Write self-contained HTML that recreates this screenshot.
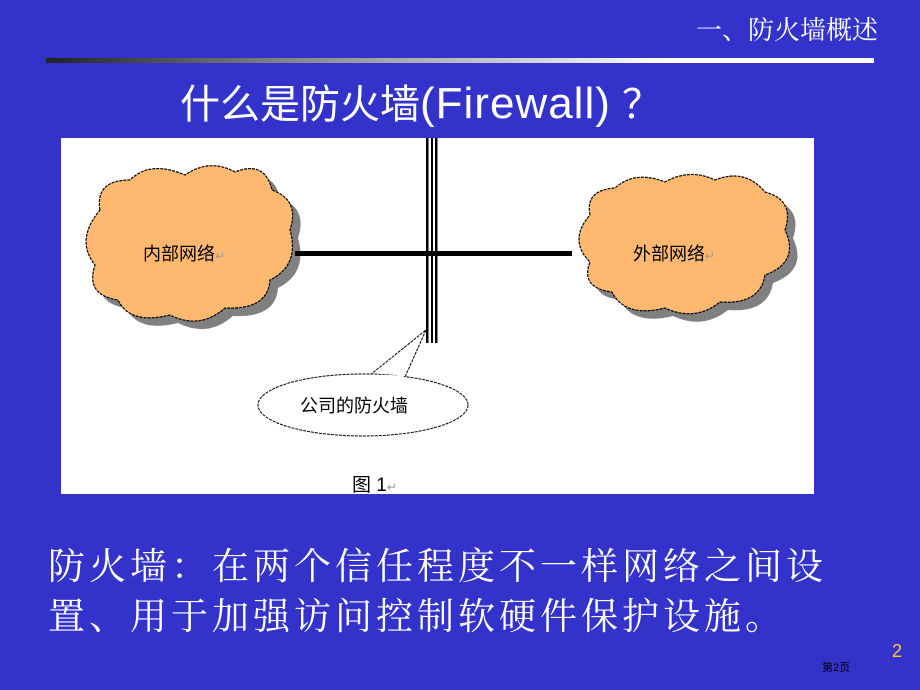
<!DOCTYPE html>
<html><head><meta charset="utf-8"><style>
body{margin:0;width:920px;height:690px;background:#3333CC;position:relative;overflow:hidden;font-family:"Liberation Sans","Noto Sans CJK SC",sans-serif;}
.a{position:absolute;white-space:nowrap;}
</style></head><body>
<div class="a" style="left:696px;top:10px;font-size:26px;color:#fff;font-family:'Noto Serif CJK SC',serif;">一、防火墙概述</div>
<div class="a" style="left:46px;top:58px;width:828px;height:5px;background:linear-gradient(90deg,#222 0%,#888 30%,#fff 75%,#fff 100%);"></div>
<div class="a" style="left:180px;top:72px;font-size:40px;color:#fff;">什么是防火墙<span style="font-size:44px;letter-spacing:1px">(Firewall)</span> ？</div>
<div class="a" style="left:61px;top:138px;width:753px;height:356px;background:#fff;"></div>
<svg class="a" style="left:0;top:0" width="920" height="690">
<g transform="translate(8,8)" fill="#808080">
<path d="M100 210 Q95 180 130 180 Q150 160 185 175 Q210 158 235 172 Q265 160 272 190 Q300 200 290 230 Q300 265 270 280 Q268 310 225 308 Q200 330 170 315 Q130 325 118 300 Q85 295 95 265 Q75 240 100 210Z"/>
<path d="M590 215 Q585 190 615 188 Q635 170 665 182 Q690 168 715 180 Q745 168 765 192 Q795 200 785 230 Q800 262 765 275 Q760 305 720 302 Q695 322 665 308 Q625 318 612 292 Q580 288 590 262 Q568 240 590 215Z"/>
</g>
<g fill="#FFB870" stroke="#000" stroke-width="1.2" stroke-dasharray="3 1">
<path d="M100 210 Q95 180 130 180 Q150 160 185 175 Q210 158 235 172 Q265 160 272 190 Q300 200 290 230 Q300 265 270 280 Q268 310 225 308 Q200 330 170 315 Q130 325 118 300 Q85 295 95 265 Q75 240 100 210Z"/>
<path d="M590 215 Q585 190 615 188 Q635 170 665 182 Q690 168 715 180 Q745 168 765 192 Q795 200 785 230 Q800 262 765 275 Q760 305 720 302 Q695 322 665 308 Q625 318 612 292 Q580 288 590 262 Q568 240 590 215Z"/>
</g>
<rect x="295" y="251" width="277" height="5" fill="#000"/>
<rect x="426" y="138" width="2.5" height="205" fill="#000"/>
<rect x="431" y="138" width="2" height="205" fill="#000"/>
<rect x="435" y="138" width="2.5" height="205" fill="#000"/>
<path d="M370 375 L426 330 L405 377" fill="#fff" stroke="#000" stroke-dasharray="3 1"/>
<ellipse cx="363" cy="405" rx="105" ry="31" fill="#fff" stroke="#000" stroke-dasharray="3 1"/>
<path d="M371 376 L404 377" stroke="#fff" stroke-width="3"/>
</svg>
<div class="a" style="left:143px;top:240px;font-size:18px;color:#000;">内部网络<span style="color:#999;font-size:12px">↵</span></div>
<div class="a" style="left:633px;top:240px;font-size:18px;color:#000;">外部网络<span style="color:#999;font-size:12px">↵</span></div>
<div class="a" style="left:300px;top:392px;font-size:18px;color:#000;">公司的防火墙</div>
<div class="a" style="left:352px;top:470px;font-size:19px;color:#000;">图 1<span style="color:#999;font-size:12px">↵</span></div>
<div class="a" style="left:48px;top:538px;font-size:37px;letter-spacing:4px;line-height:50px;color:#fff;font-family:'Noto Serif CJK SC',serif;">防火墙：在两个信任程度不一样网络之间设<br>置、用于加强访问控制软硬件保护设施。</div>
<div class="a" style="left:892px;top:641px;font-size:18px;color:#FFCC33;">2</div>
<div class="a" style="left:822px;top:659px;font-size:11px;color:#000;">第2页</div>
</body></html>
